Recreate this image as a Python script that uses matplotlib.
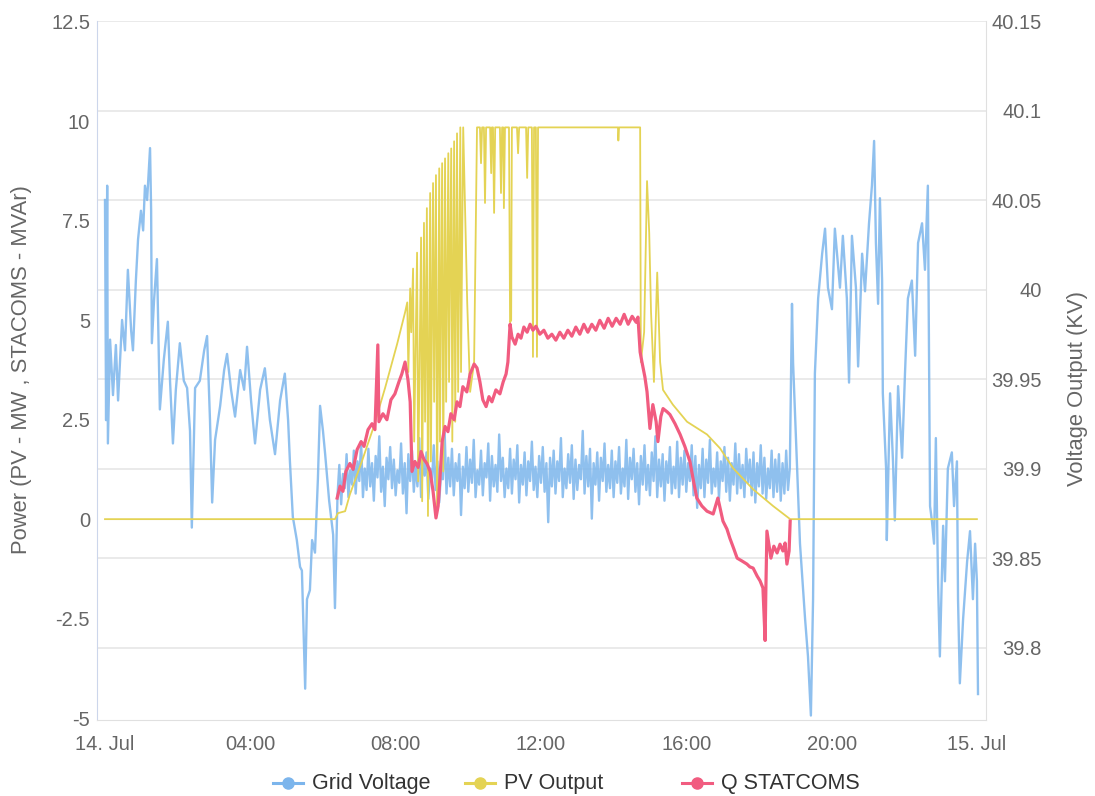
import numpy as np
import matplotlib
matplotlib.use("Agg")
import matplotlib.pyplot as plt
from matplotlib.lines import Line2D

plt.rcParams['font.family'] = ['Liberation Sans', 'DejaVu Sans']
plt.rcParams['axes.unicode_minus'] = False

# colours (highcharts default palette)
BLUE = '#7cb5ec'
YELLOW = '#e4d354'
PINK = '#f15c80'

# ---- Grid Voltage (kV), hours since 14 Jul 00:00 ----
volt_am_h = [0.00, 0.03, 0.06, 0.08, 0.14, 0.22, 0.30, 0.36, 0.47, 0.55, 0.63, 0.72, 0.77, 0.85, 0.91,
             0.99, 1.05, 1.10, 1.16, 1.24, 1.27, 1.29, 1.35, 1.43, 1.51, 1.62, 1.73, 1.79, 1.87, 1.95,
             2.06, 2.17, 2.26, 2.34, 2.39, 2.48, 2.61, 2.73, 2.81, 2.89, 2.95, 3.03, 3.17, 3.28, 3.36,
             3.47, 3.58, 3.72, 3.83, 3.91, 4.02, 4.13, 4.27, 4.40, 4.54, 4.68, 4.82, 4.95, 5.04, 5.09,
             5.17, 5.28, 5.37, 5.42, 5.45, 5.51, 5.56, 5.64, 5.70, 5.78, 5.86, 5.92, 6.00, 6.06, 6.17,
             6.28, 6.33, 6.36]
volt_am_kv = [40.050, 39.927, 40.058, 39.914, 39.972, 39.941, 39.969, 39.938, 39.983, 39.966, 40.011, 39.977,
              39.966, 40.005, 40.028, 40.044, 40.033, 40.058, 40.050, 40.079, 40.044, 39.970, 39.994, 40.017,
              39.933, 39.961, 39.982, 39.949, 39.914, 39.944, 39.970, 39.949, 39.945, 39.921, 39.867, 39.945,
              39.949, 39.966, 39.974, 39.927, 39.881, 39.916, 39.935, 39.955, 39.964, 39.944, 39.929, 39.955,
              39.944, 39.968, 39.938, 39.914, 39.944, 39.956, 39.927, 39.908, 39.938, 39.953, 39.927, 39.904,
              39.873, 39.860, 39.845, 39.843, 39.821, 39.777, 39.827, 39.832, 39.860, 39.853, 39.894, 39.935,
              39.921, 39.908, 39.882, 39.863, 39.822, 39.849]

# daytime band, one reading every 3 minutes from 06:24
volt_day_start = 6.40
volt_day_step = 0.05
volt_day_kv = [
    39.885, 39.902, 39.880, 39.897, 39.889, 39.908, 39.884, 39.899, 39.891, 39.910,
    39.886, 39.904, 39.893, 39.915, 39.884, 39.900, 39.888, 39.911, 39.890, 39.903,
    39.882, 39.907, 39.895, 39.918, 39.887, 39.901, 39.879, 39.906, 39.894, 39.912,
    39.889, 39.905, 39.885, 39.899, 39.892, 39.914, 39.886, 39.903, 39.875, 39.908,
    39.893, 39.910, 39.887, 39.902, 39.890, 39.917, 39.884, 39.905, 39.896, 39.909,
    39.883, 39.900, 39.892, 39.913, 39.888, 39.904, 39.881, 39.898, 39.894, 39.920,
    39.886, 39.906, 39.890, 39.911, 39.885, 39.903, 39.893, 39.908, 39.874, 39.901,
    39.889, 39.912, 39.887, 39.905, 39.892, 39.916, 39.884, 39.899, 39.891, 39.910,
    39.885, 39.903, 39.895, 39.914, 39.882, 39.907, 39.890, 39.902, 39.887, 39.919,
    39.893, 39.906, 39.884, 39.900, 39.889, 39.911, 39.886, 39.905, 39.894, 39.913,
    39.881, 39.902, 39.891, 39.909, 39.885, 39.904, 39.893, 39.915, 39.888, 39.901,
    39.884, 39.907, 39.892, 39.912, 39.887, 39.903, 39.870, 39.906, 39.890, 39.910,
    39.886, 39.904, 39.893, 39.917, 39.884, 39.900, 39.889, 39.908, 39.892, 39.913,
    39.883, 39.905, 39.888, 39.902, 39.894, 39.921, 39.886, 39.907, 39.890, 39.911,
    39.872, 39.903, 39.891, 39.909, 39.882, 39.906, 39.893, 39.914, 39.887, 39.902,
    39.889, 39.910, 39.884, 39.904, 39.892, 39.912, 39.886, 39.900, 39.890, 39.916,
    39.883, 39.906, 39.894, 39.911, 39.887, 39.903, 39.880, 39.907, 39.891, 39.913,
    39.888, 39.902, 39.885, 39.909, 39.893, 39.918, 39.884, 39.905, 39.890, 39.908,
    39.882, 39.904, 39.892, 39.912, 39.886, 39.901, 39.889, 39.915, 39.884, 39.906,
    39.891, 39.910, 39.887, 39.903, 39.893, 39.913, 39.885, 39.907, 39.878, 39.902,
    39.889, 39.911, 39.884, 39.905, 39.892, 39.916, 39.886, 39.900, 39.890, 39.909,
    39.883, 39.904, 39.893, 39.912, 39.887, 39.906, 39.882, 39.903, 39.891, 39.914,
    39.886, 39.908, 39.889, 39.902, 39.884, 39.911, 39.892, 39.905, 39.885, 39.909,
    39.881, 39.903, 39.890, 39.913, 39.886, 39.906, 39.883, 39.900, 39.889, 39.910,
    39.884, 39.905, 39.887, 39.908, 39.882, 39.903, 39.886, 39.910, 39.888, 39.900,
]

volt_pm_h = [18.91, 18.94, 19.05, 19.13, 19.27, 19.35, 19.43, 19.49, 19.54, 19.63, 19.74, 19.82, 19.90,
             20.01, 20.09, 20.23, 20.31, 20.42, 20.48, 20.56, 20.67, 20.73, 20.84, 20.92, 21.03, 21.11,
             21.17, 21.22, 21.28, 21.33, 21.39, 21.41, 21.50, 21.52, 21.61, 21.69, 21.74, 21.83, 21.94,
             22.02, 22.10, 22.21, 22.30, 22.38, 22.49, 22.57, 22.65, 22.71, 22.76, 22.82, 22.87, 22.93,
             22.98, 23.07, 23.12, 23.20, 23.31, 23.37, 23.45, 23.48, 23.53, 23.62, 23.73, 23.81, 23.89,
             23.95, 24.00, 24.03]
volt_pm_kv = [39.992, 39.959, 39.900, 39.858, 39.816, 39.795, 39.762, 39.827, 39.953, 39.995, 40.020, 40.034,
              40.001, 39.989, 40.034, 40.001, 40.030, 39.995, 39.948, 40.030, 40.001, 39.957, 40.020, 39.999,
              40.037, 40.058, 40.083, 40.026, 39.992, 40.051, 40.005, 39.942, 39.900, 39.860, 39.942, 39.904,
              39.871, 39.946, 39.906, 39.953, 39.995, 40.005, 39.963, 40.026, 40.037, 40.011, 40.058, 39.879,
              39.871, 39.858, 39.917, 39.837, 39.795, 39.868, 39.837, 39.900, 39.909, 39.879, 39.904, 39.827,
              39.780, 39.816, 39.848, 39.865, 39.827, 39.858, 39.837, 39.774]

# ---- PV Output (MW) ----
pv_h = [0.00, 6.33, 6.41, 6.61, 6.74, 7.07, 7.38, 7.71, 8.04, 8.26,
        8.32, 8.35, 8.40, 8.43, 8.48, 8.51, 8.59, 8.62, 8.70, 8.73, 8.78, 8.81, 8.86, 8.89, 8.95, 8.97,
        9.03, 9.06, 9.11, 9.14, 9.20, 9.22, 9.28, 9.31, 9.36, 9.39, 9.45, 9.47, 9.53, 9.56, 9.61, 9.64,
        9.69, 9.72, 9.78, 9.80, 9.86, 9.97, 10.05, 10.16, 10.24,
        10.32, 10.35, 10.38, 10.43, 10.46, 10.49, 10.60, 10.63, 10.65, 10.68, 10.71, 10.74,
        10.87, 10.90, 10.93, 10.96, 10.98, 11.01, 11.12, 11.15, 11.18, 11.20,
        11.34, 11.37, 11.40, 11.59, 11.62, 11.65, 11.75, 11.78, 11.81, 11.86, 11.89, 11.92,
        14.12, 14.13, 14.15, 14.73, 14.75, 14.84, 14.92, 14.98, 15.03, 15.11, 15.20, 15.28, 15.36,
        15.63, 16.02, 16.57, 16.93, 17.29, 17.84, 18.39, 18.86, 24.00]
pv_mw = [0.00, 0.00, 0.15, 0.20, 0.62, 1.45, 2.28, 3.30, 4.40, 5.20,
         5.45, 3.70, 5.80, 4.70, 6.30, 1.95, 6.70, 0.95, 7.08, 0.45, 7.45, 2.45, 7.82, 0.08, 8.20, 1.45,
         8.45, 2.95, 8.65, 0.15, 8.82, 1.95, 8.95, 1.20, 9.07, 2.95, 9.20, 3.45, 9.32, 1.95, 9.50, 2.45,
         9.70, 3.20, 9.85, 3.70, 9.85, 5.45, 3.20, 3.95, 9.85,
         9.85, 8.95, 9.85, 9.85, 7.95, 9.85, 9.85, 8.70, 9.85, 9.85, 7.70, 9.85,
         9.85, 8.20, 9.85, 9.85, 7.82, 9.85, 9.85, 4.95, 5.00, 9.85,
         9.85, 9.20, 9.85, 9.85, 8.58, 9.85, 9.85, 4.08, 9.85, 9.85, 4.08, 9.85,
         9.85, 9.52, 9.85, 9.85, 3.95, 4.70, 8.50, 7.20, 5.20, 3.45, 6.20, 3.95, 3.25,
         2.88, 2.45, 2.13, 1.78, 1.28, 0.75, 0.33, 0.00, 0.00]

# ---- Q STATCOMS (MVAr) ----
q_h = [6.39, 6.47, 6.55, 6.63, 6.74, 6.83, 6.94, 7.05, 7.13, 7.24, 7.35, 7.43, 7.51, 7.54, 7.65, 7.76,
       7.87, 7.98, 8.09, 8.17, 8.26, 8.34, 8.40, 8.45, 8.53, 8.62, 8.70, 8.78, 8.86, 8.95, 9.03, 9.11,
       9.17, 9.22, 9.28, 9.36, 9.44, 9.52, 9.61, 9.69, 9.77, 9.85, 9.96, 10.05, 10.16, 10.24, 10.32,
       10.40, 10.49, 10.57, 10.65, 10.76, 10.87, 10.96, 11.04, 11.09, 11.15, 11.20, 11.29, 11.37, 11.45,
       11.53, 11.62, 11.70, 11.78, 11.86, 11.97, 12.08, 12.19, 12.30, 12.41, 12.52, 12.63, 12.74, 12.85,
       12.96, 13.07, 13.18, 13.29, 13.40, 13.51, 13.62, 13.74, 13.85, 13.96, 14.07, 14.18, 14.29, 14.40,
       14.51, 14.62, 14.67, 14.73, 14.78, 14.86, 14.92, 15.00, 15.08, 15.17, 15.22, 15.30, 15.36, 15.47,
       15.55, 15.69, 15.83, 15.96, 16.10, 16.21, 16.29, 16.43, 16.57, 16.74, 16.87, 17.01, 17.12, 17.20,
       17.31, 17.40, 17.53, 17.67, 17.75, 17.84, 17.95, 18.03, 18.11, 18.17, 18.19, 18.22, 18.28, 18.33,
       18.41, 18.50, 18.58, 18.66, 18.72, 18.77, 18.83, 18.86]
q_mvar = [0.53, 0.83, 0.70, 1.20, 1.40, 1.25, 1.75, 1.95, 1.83, 2.25, 2.40, 2.25, 4.38, 2.45, 2.65, 2.50,
          3.00, 3.15, 3.45, 3.65, 3.95, 3.50, 2.95, 1.20, 1.45, 1.30, 1.70, 1.50, 1.40, 1.20, 0.70, 0.03,
          0.33, 1.03, 1.95, 2.33, 2.20, 2.65, 2.50, 2.95, 2.83, 3.33, 3.20, 3.65, 3.90, 3.80, 3.45,
          3.00, 2.83, 3.08, 2.95, 3.25, 3.15, 3.45, 3.65, 3.95, 4.90, 4.58, 4.40, 4.65, 4.55,
          4.83, 4.70, 4.90, 4.75, 4.85, 4.65, 4.75, 4.55, 4.65, 4.50, 4.70, 4.55, 4.75, 4.60,
          4.83, 4.65, 4.90, 4.70, 4.90, 4.75, 5.00, 4.80, 5.05, 4.85, 5.05, 4.90, 5.15, 4.90,
          5.10, 4.95, 5.08, 4.20, 3.95, 3.58, 3.20, 2.28, 2.88, 2.45, 1.95, 2.58, 2.78, 2.70,
          2.63, 2.40, 2.13, 1.83, 1.45, 0.90, 0.53, 0.33, 0.20, 0.13, 0.53, -0.05, -0.25, -0.48,
          -0.75, -0.98, -1.05, -1.13, -1.20, -1.23, -1.43, -1.55, -1.73, -3.05, -1.80, -0.30, -0.68, -0.98,
          -0.68, -0.85, -0.63, -0.80, -0.60, -1.13, -0.80, -0.05]

x_ticks = [0, 4, 8, 12, 16, 20, 24]
x_labels = ['14. Jul', '04:00', '08:00', '12:00', '16:00', '20:00', '15. Jul']
left_ticks = [-5, -2.5, 0, 2.5, 5, 7.5, 10, 12.5]
right_ticks = [39.8, 39.85, 39.9, 39.95, 40.0, 40.05, 40.1, 40.15]
series_names = ['Grid Voltage', 'PV Output', 'Q STATCOMS']

volt_day_h = volt_day_start + volt_day_step * np.arange(len(volt_day_kv))
volt_h = np.concatenate([volt_am_h, volt_day_h, volt_pm_h])
volt_kv = np.concatenate([volt_am_kv, volt_day_kv, volt_pm_kv])

W, H = 1095, 796

# ---- figure ----
fig = plt.figure(figsize=(W / 100, H / 100), dpi=100)
ax = fig.add_axes([97 / W, 76 / H, 889 / W, 699 / H])
ax2 = ax.twinx()
ax.set_zorder(ax2.get_zorder() + 1)  # power series above the voltage band
ax.patch.set_visible(False)

ax2.plot(volt_h, volt_kv, color=BLUE, lw=1.7, alpha=0.85)
ax.plot(pv_h, pv_mw, color=YELLOW, lw=1.3)
ax.plot(q_h, q_mvar, color=PINK, lw=2.3)

ax.set_xlim(-0.22, 24.25)
ax.set_ylim(-5.05, 12.525)
ax2.set_ylim(39.7595, 40.15)

ax.set_xticks(x_ticks)
ax.set_xticklabels(x_labels)
ax.set_yticks(left_ticks)
ax.set_yticklabels(['%g' % v for v in left_ticks])
ax2.set_yticks(right_ticks)
ax2.set_yticklabels(['%g' % v for v in right_ticks])
for lab in ax2.get_yticklabels():
    lab.set_horizontalalignment('right')

ax.tick_params(axis='x', length=0, pad=11, labelsize=14.5, labelcolor='#666666')
ax.tick_params(axis='y', length=0, pad=5, labelsize=14.5, labelcolor='#666666')
ax2.tick_params(axis='y', length=0, pad=40, labelsize=14.5, labelcolor='#666666')

ax2.grid(axis='y', color='#e6e6e6', lw=1.2)
ax2.set_axisbelow(True)
for a in (ax, ax2):
    for s in a.spines.values():
        s.set_visible(False)
ax.spines['left'].set_visible(True)
ax.spines['left'].set_color('#ccd6eb')
ax2.spines['right'].set_visible(True)
ax2.spines['right'].set_color('#e0e0e0')
ax.spines['bottom'].set_visible(True)
ax.spines['bottom'].set_color('#e0e0e0')

# axis titles
fig.text(22 / W, 1 - 370 / H, 'Power (PV - MW , STACOMS - MVAr)', rotation=90,
         ha='center', va='center', fontsize=15.8, color='#666666')
fig.text(1078 / W, 1 - 388 / H, 'Voltage Output (KV)', rotation=90,
         ha='center', va='center', fontsize=15.8, color='#666666')

# legend, drawn item by item like highcharts
leg_y = 1 - 783 / H
marker_x = [288, 480, 697]
for c, mx, name in zip((BLUE, YELLOW, PINK), marker_x, series_names):
    fig.add_artist(Line2D([(mx - 15) / W, (mx + 15) / W], [leg_y, leg_y], transform=fig.transFigure,
                          color=c, lw=2.2))
    fig.add_artist(Line2D([mx / W], [leg_y], transform=fig.transFigure, color=c, marker='o',
                          markersize=8, lw=0))
    fig.text((mx + 24) / W, leg_y, name, ha='left', va='center', fontsize=15.5, color='#333333')

fig.savefig('out.png', dpi=100, facecolor='white')
